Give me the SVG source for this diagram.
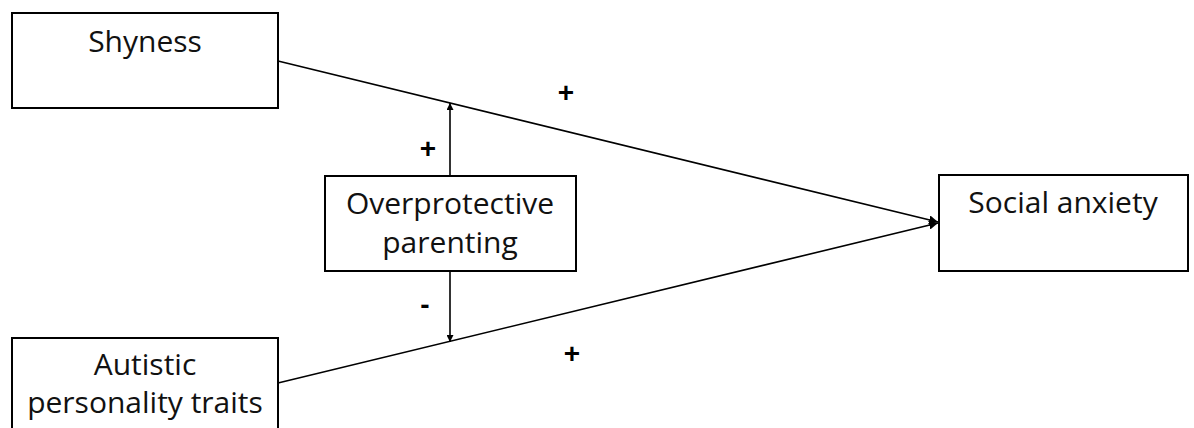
<svg xmlns="http://www.w3.org/2000/svg" width="1194" height="428" viewBox="0 0 1194 428">
<style>
.box{fill:#fff;stroke:#000;stroke-width:2}
.t{font-family:"Open Sans","Liberation Sans",Arial,sans-serif;font-size:30px;fill:#111;text-anchor:middle}
.s{font-family:"Liberation Sans",Arial,sans-serif;font-size:28px;font-weight:bold;fill:#000;text-anchor:middle}
.ln{stroke:#000;stroke-width:1.6;fill:none}
</style>
<defs>
<marker id="ah" viewBox="0 0 10 10" refX="10" refY="5" markerWidth="8" markerHeight="7" markerUnits="userSpaceOnUse" orient="auto">
<path d="M0,0 L10,5 L0,10 Z" fill="#000"/>
</marker>
<marker id="ah2" viewBox="0 0 10 10" refX="10" refY="5" markerWidth="9" markerHeight="9" markerUnits="userSpaceOnUse" orient="auto">
<path d="M0,0 L10,5 L0,10 Z" fill="#000"/>
</marker>
</defs>
<rect width="1194" height="428" fill="#fff"/>
<g id="connectors">
<line class="ln" x1="278" y1="61" x2="938" y2="222" marker-end="url(#ah2)"/>
<line class="ln" x1="278" y1="383" x2="938" y2="223" marker-end="url(#ah2)"/>
<line class="ln" x1="450" y1="176" x2="450" y2="103" marker-end="url(#ah)"/>
<line class="ln" x1="450" y1="271" x2="450" y2="342" marker-end="url(#ah)"/>
<text class="s" x="566" y="102">+</text>
<text class="s" x="428" y="158">+</text>
<text class="s" x="425" y="314">-</text>
<text class="s" x="572" y="363">+</text>
</g>
<g id="shyness">
<rect class="box" x="12" y="13" width="266" height="95"/>
<text class="t" x="145" y="52">Shyness</text>
</g>
<g id="overprotective">
<rect class="box" x="325" y="176" width="251" height="95"/>
<text class="t" x="450" y="214">Overprotective</text>
<text class="t" x="450" y="253">parenting</text>
</g>
<g id="social">
<rect class="box" x="939" y="175" width="249" height="96"/>
<text class="t" x="1063" y="213">Social anxiety</text>
</g>
<g id="autistic">
<rect class="box" x="12" y="338" width="266" height="100"/>
<text class="t" x="145" y="375">Autistic</text>
<text class="t" x="145" y="413">personality traits</text>
</g>
</svg>
